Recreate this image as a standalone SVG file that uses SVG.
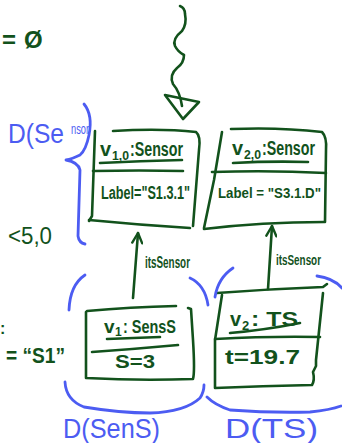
<svg xmlns="http://www.w3.org/2000/svg" width="342" height="443" viewBox="0 0 342 443">
  <style>
    .ink { fill: none; stroke: #12521c; stroke-width: 2.6; stroke-linecap: round; stroke-linejoin: round; }
    .blue { fill: none; stroke: #4c5cf2; stroke-width: 2.8; stroke-linecap: round; stroke-linejoin: round; }
    .t { font-family: "Liberation Sans", "DejaVu Sans", sans-serif; fill: #12521c; font-weight: bold; }
    .n { font-weight: normal; }
    .tb { font-family: "Liberation Sans", "DejaVu Sans", sans-serif; fill: #4c5cf2; }
  </style>
  <defs>
    <marker id="openArrow" viewBox="0 0 16 12" refX="12" refY="6" markerWidth="16" markerHeight="12" markerUnits="userSpaceOnUse" orient="auto">
      <path d="M2,1 L12,6 L2,11" fill="none" stroke="#12521c" stroke-width="2.4" stroke-linecap="round" stroke-linejoin="round"/>
    </marker>
  </defs>

  <!-- loose notes on the left margin -->
  <g id="notes">
    <text class="t" x="2" y="48" font-size="24">=</text>
    <text class="t" x="24" y="48" font-size="24">Ø</text>
    <text class="t n" x="8" y="244" font-size="24" textLength="44" lengthAdjust="spacingAndGlyphs">&lt;5,0</text>
    <text class="t" x="0" y="334" font-size="16">:</text>
    <text class="t" x="6" y="363" font-size="22" textLength="59" lengthAdjust="spacingAndGlyphs">= “S1”</text>
  </g>

  <!-- incoming event: wavy arrow with open triangle head -->
  <g id="trigger">
    <path class="ink" d="M180,6 Q185,8 185,14 Q187,24 182,31 Q172,39 175,46 Q178,52 184,55 Q184,63 177,68 Q169,75 173,84 Q180,92 182,106"/>
    <path class="ink" d="M165,95 L199,102 L183,119 Z"/>
  </g>

  <!-- v1,0 : Sensor -->
  <g id="v10">
    <path class="ink" d="M95,131 L92,216 L89,221"/>
    <path class="ink" d="M89,220 Q140,225 190,228"/>
    <path class="ink" d="M113,131 Q160,128 196,132 Q201,136 199,150 L193,226"/>
    <path class="ink" d="M100,163 Q140,161 182,160"/>
    <path class="ink" d="M93,171 Q140,170 183,171"/>
    <text class="t" x="100" y="156" font-size="20">v</text>
    <text class="t" x="112" y="160" font-size="12" textLength="17" lengthAdjust="spacingAndGlyphs">1,0</text>
    <text class="t" x="130" y="156" font-size="20" textLength="53" lengthAdjust="spacingAndGlyphs">:Sensor</text>
    <text class="t" x="101" y="199" font-size="18" textLength="89" lengthAdjust="spacingAndGlyphs">Label="S1.3.1"</text>
  </g>

  <!-- v2,0 : Sensor -->
  <g id="v20">
    <path class="ink" d="M222,132 L214,180 L204,228"/>
    <path class="ink" d="M204,229 Q262,222 324,222"/>
    <path class="ink" d="M231,129 Q280,127 322,132 Q327,137 326,150 L325,222"/>
    <path class="ink" d="M233,163 Q270,161 308,162"/>
    <path class="ink" d="M212,172 Q270,170 326,173"/>
    <text class="t" x="232" y="155" font-size="20">v</text>
    <text class="t" x="244" y="159" font-size="12" textLength="17" lengthAdjust="spacingAndGlyphs">2,0</text>
    <text class="t" x="262" y="155" font-size="20" textLength="53" lengthAdjust="spacingAndGlyphs">:Sensor</text>
    <text class="t" x="218" y="198" font-size="15" textLength="103" lengthAdjust="spacingAndGlyphs">Label = "S3.1.D"</text>
  </g>

  <!-- v1 : SensS -->
  <g id="v1">
    <path class="ink" d="M87,311 Q130,307 176,306"/>
    <path class="ink" d="M86,312 L86,378 Q140,381 193,379 Q195,372 193,340 L191,309 L188,308"/>
    <path class="ink" d="M107,339 Q135,338 160,337"/>
    <path class="ink" d="M92,352 Q135,349 178,345"/>
    <text class="t" x="104" y="333" font-size="19">v</text>
    <text class="t" x="115" y="336" font-size="12">1</text>
    <text class="t" x="123" y="333" font-size="19" textLength="53" lengthAdjust="spacingAndGlyphs">: SensS</text>
    <text class="t" x="115" y="368" font-size="18" textLength="40" lengthAdjust="spacingAndGlyphs">S=3</text>
  </g>

  <!-- v2 : TS -->
  <g id="v2">
    <path class="ink" d="M217,293 Q270,289 323,287 L327,284"/>
    <path class="ink" d="M222,295 L215,340 L215,388 Q262,386 312,385 Q315,380 313,372 L316,366 L316,360 L323,293"/>
    <path class="ink" d="M230,333 Q265,330 300,323"/>
    <path class="ink" d="M215,339 Q270,336 320,337"/>
    <text class="t" x="230" y="326" font-size="20">v</text>
    <text class="t" x="242" y="330" font-size="13">2</text>
    <text class="t" x="251" y="326" font-size="20" textLength="47" lengthAdjust="spacingAndGlyphs">: TS</text>
    <text class="t" x="225" y="364" font-size="21" textLength="75" lengthAdjust="spacingAndGlyphs">t=19.7</text>
  </g>

  <!-- itsSensor links -->
  <g id="connectors">
    <path class="ink" d="M133,298 L138,233" marker-end="url(#openArrow)"/>
    <text class="t" x="145" y="268" font-size="17" textLength="45" lengthAdjust="spacingAndGlyphs">itsSensor</text>
    <path class="ink" d="M268,289 L272,226" marker-end="url(#openArrow)"/>
    <text class="t" x="276" y="265" font-size="14" textLength="45" lengthAdjust="spacingAndGlyphs">itsSensor</text>
  </g>

  <!-- blue domain annotations -->
  <g id="domains">
    <text class="tb" x="8" y="143" font-size="27" textLength="56" lengthAdjust="spacingAndGlyphs">D(Se</text>
    <text class="tb" x="71" y="134" font-size="14" textLength="18" lengthAdjust="spacingAndGlyphs">nsor</text>
    <path class="blue" d="M84,104 Q93,115 89,135 Q86,150 80,155 Q72,159 66,160 Q78,162 80,170 L78,236 Q79,243 85,244"/>

    <path class="blue" d="M85,275 Q70,285 69,310"/>
    <path class="blue" d="M190,278 Q205,285 208,305"/>
    <path class="blue" d="M65,382 Q66,400 84,407 Q120,413 150,413 Q185,412 200,398 Q204,392 204,385"/>
    <text class="tb" x="63" y="438" font-size="28" textLength="97" lengthAdjust="spacingAndGlyphs">D(SenS)</text>

    <path class="blue" d="M233,268 Q218,278 215,297"/>
    <path class="blue" d="M317,276 Q333,278 342,288"/>
    <path class="blue" d="M207,397 Q215,405 230,410 Q270,413 310,412 Q330,410 341,406"/>
    <text class="tb" x="225" y="438" font-size="28" textLength="93" lengthAdjust="spacingAndGlyphs">D(TS)</text>
  </g>
</svg>
